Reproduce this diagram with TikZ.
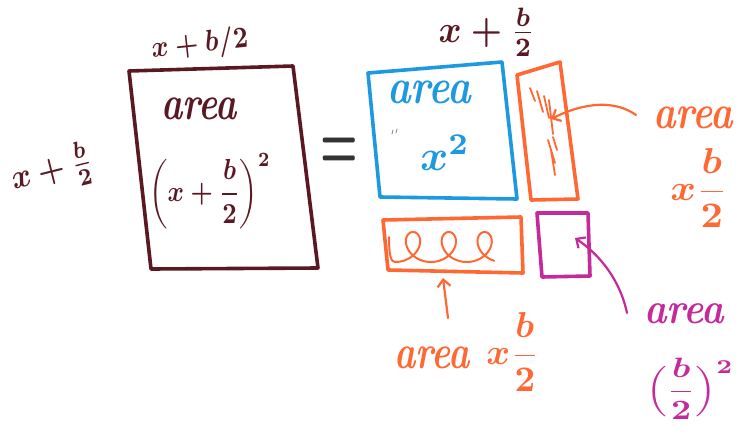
\documentclass[tikz,border=0pt]{standalone}
\usepackage{graphicx}
\usepackage{amsmath}
\usetikzlibrary{arrows.meta}
\definecolor{maroon}{HTML}{5A1822}
\definecolor{skyb}{HTML}{1E98E0}
\definecolor{orng}{HTML}{FF6733}
\definecolor{magn}{HTML}{C42A9A}
\definecolor{eqgray}{HTML}{333333}
\newcommand{\hw}[3]{\scalebox{#1}[#2]{#3}}
\newcommand{\word}{\bfseries\itshape area}
\begin{document}
\begin{tikzpicture}[x=1pt,y=-1pt,line cap=round,line join=round,
  box/.style={line width=3.6pt},
  hatch/.style={line width=1.8pt},
  lbl/.style={inner sep=0pt,outer sep=0pt,font=\boldmath},
  arrw/.style={line width=2.2pt,-{Straight Barb[length=7pt,width=13pt,line width=2.2pt]}}]
\useasboundingbox (0,0) rectangle (752,434);

% ---------- left big square ----------
\draw[box,maroon] (129,71) -- (293,66) -- (318,268) -- (151,269) -- cycle;
\node[lbl,text=maroon] (bigarea) at (199,109) {\hw{3.6}{4.8}{\word}};
\node[lbl,text=maroon] (bigexpr) at (210,191) {\hw{2.5}{2.9}{$\displaystyle\biggl(x+\frac{b}{2}\biggr)^{2}$}};
\node[lbl,text=maroon,rotate=6] (toplbl) at (200,45) {\hw{2.6}{3}{$x+b/2$}};
\node[lbl,text=maroon,rotate=14] (leftlbl) at (52,171) {\hw{3}{3.4}{$x+\frac{b}{2}$}};

% ---------- equals ----------
\node[lbl,text=eqgray] (eq) at (339,154) {\hw{4.2}{8}{$=$}};

% ---------- blue square ----------
\draw[box,skyb] (368,73) -- (502,62) -- (517,199) -- (380,197) -- cycle;
\node[lbl,text=skyb] (bluearea) at (429,92) {\hw{4}{5}{\word}};
\node[lbl,text=skyb] (xsq) at (445,153) {\hw{4.3}{4.3}{$x^{2}$}};
\draw[gray,line width=0.8pt] (393,130) -- (392,134) (397,129) -- (396,133);
\node[lbl,text=maroon] (trlbl) at (487,32) {\hw{3.5}{3.8}{$x+\frac{b}{2}$}};

% ---------- tall orange rectangle ----------
\draw[box,orng] (517,75) -- (560,62) -- (578,199) -- (531,200) -- cycle;
\draw[hatch,orng] (530,88) -- (535,101) (537,91) -- (543,112) (544,96) -- (549,118)
  (549,100) -- (553,134) (553,137) -- (557,150) (548,140) -- (555,163) (551,150) -- (555,175);
\node[lbl,text=orng] (orarea) at (693,118) {\hw{3.8}{4.8}{\word}};
\node[lbl,text=orng] (orexpr) at (699,188) {\hw{3.9}{3.6}{$x\dfrac{b}{2}$}};
\coordinate (orstart) at (636,115);
\coordinate (ortip) at (551,119);
\draw[arrw,orng] (orstart) .. controls (615,100) and (585,102) .. (ortip);

% ---------- wide orange rectangle ----------
\draw[box,orng] (383,220) -- (521,217) -- (523,273) -- (388,270) -- cycle;
\draw[hatch,orng,line width=2pt] (389,237) .. controls (389,256) and (391,262) .. (395.1,262)
  -- plot[domain=-3.1416:15.3,samples=160,variable=\t] ({413+5.7*\t-15*sin(\t r)},{247-15*cos(\t r)});
\node[lbl,text=orng] (wlarea) at (432,358) {\hw{3.6}{4.8}{\word}};
\node[lbl,text=orng] (wlexpr) at (513,352) {\hw{3.6}{3.6}{$x\dfrac{b}{2}$}};
\coordinate (wlstart) at (448,318);
\coordinate (wltip) at (443,278);
\draw[arrw,orng] (wlstart) -- (wltip);

% ---------- magenta square ----------
\draw[box,magn] (537,213) -- (588,213) -- (590,276) -- (542,277) -- cycle;
\node[lbl,text=magn] (mgarea) at (684,314) {\hw{3.8}{4.4}{\word}};
\node[lbl,text=magn] (mgexpr) at (690,389) {\hw{3.5}{2.8}{$\displaystyle\Bigl(\frac{b}{2}\Bigr)^{2}$}};
\coordinate (mgstart) at (627,313);
\coordinate (mgtip) at (575,238);
\draw[arrw,magn] (mgstart) .. controls (620,280) and (600,255) .. (mgtip);
\end{tikzpicture}
\end{document}
